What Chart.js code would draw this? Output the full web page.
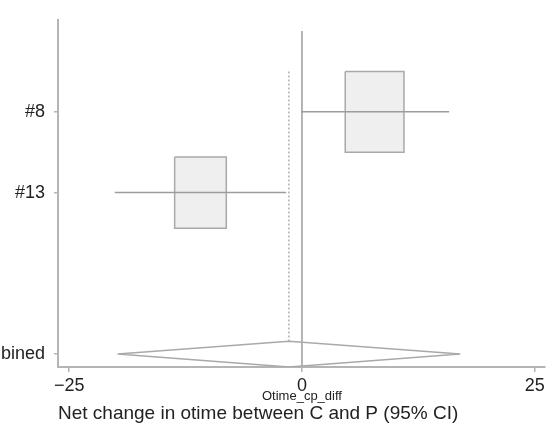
<!DOCTYPE html>
<html>
<head>
<meta charset="utf-8">
<script src="https://cdn.jsdelivr.net/npm/chart.js@4/dist/chart.umd.min.js"></script>
<style>
  html, body { margin: 0; padding: 0; background: #fff; }
  canvas { display: block; }
</style>
</head>
<body>
<canvas id="c" width="555" height="426"></canvas>
<script>
// ---- data ----
const studyLabels = ['#8', '#13'];
const studyRows = [1, 2];
const studyEst = [7.8, -10.9];
const studyLo = [-0.1, -20.1];
const studyHi = [15.8, -1.7];
const studyWeight = [56.4, 43.6];

const combinedLabel = 'Combined';
const combinedRow = 4;
const combinedEst = -1.4;
const combinedLo = -19.8;
const combinedHi = 17.0;

const xTickValues = [-25, 0, 25];
const yTickValues = [1, 2, 4];
const yTickLabels = ['#8', '#13', 'Combined'];
const xTitle = 'Net change in otime between C and P (95% CI)';
const xVarLabel = 'Otime_cp_diff';

// ---- styling ----
const AXIS = '#b4b4b4';
const LINE = '#9c9c9c';
const BOX_EDGE = '#a9a9a9';
const BOX_FILL = '#efefef';
const TEXT = '#222';
const FONT = '"Liberation Sans", Arial, Helvetica, sans-serif';
const Y_MIN = -0.14, Y_MAX = 4.16;
const X_MIN = -26.2, X_MAX = 26.1;
const BOX_KX = 0.42, BOX_KY = 0.0667, DIAMOND_H = 0.16;

const datasets = [];
const base = { pointRadius: 0, pointHoverRadius: 0, fill: false, tension: 0 };

// zero line
datasets.push(Object.assign({}, base, {
  data: [{x: 0, y: 0}, {x: 0, y: Y_MAX}],
  borderColor: LINE, borderWidth: 1.5, order: 2
}));
// overall effect dashed line
datasets.push(Object.assign({}, base, {
  data: [{x: combinedEst, y: 0.5}, {x: combinedEst, y: combinedRow - DIAMOND_H}],
  borderColor: LINE, borderWidth: 1.2, borderDash: [2, 2], order: 2
}));
// study boxes and CIs
studyLabels.forEach((lab, i) => {
  const r = studyRows[i], e = studyEst[i];
  const hw = BOX_KX * Math.sqrt(studyWeight[i]);
  const hh = BOX_KY * Math.sqrt(studyWeight[i]);
  datasets.push(Object.assign({}, base, {
    data: [
      {x: e - hw, y: r - hh}, {x: e + hw, y: r - hh},
      {x: e + hw, y: r + hh}, {x: e - hw, y: r + hh}, {x: e - hw, y: r - hh}
    ],
    borderColor: BOX_EDGE, borderWidth: 1.5, backgroundColor: BOX_FILL,
    fill: 'shape', order: 3
  }));
  datasets.push(Object.assign({}, base, {
    data: [{x: studyLo[i], y: r}, {x: studyHi[i], y: r}],
    borderColor: LINE, borderWidth: 1.5, order: 1
  }));
});
// combined diamond
datasets.push(Object.assign({}, base, {
  data: [
    {x: combinedLo, y: combinedRow}, {x: combinedEst, y: combinedRow - DIAMOND_H},
    {x: combinedHi, y: combinedRow}, {x: combinedEst, y: combinedRow + DIAMOND_H},
    {x: combinedLo, y: combinedRow}
  ],
  borderColor: BOX_EDGE, borderWidth: 1.5, order: 1
}));

const varLabelPlugin = {
  id: 'varLabel',
  afterDraw(chart) {
    const ctx = chart.ctx;
    const xs = chart.scales.x;
    ctx.save();
    ctx.font = '13px ' + FONT;
    ctx.fillStyle = TEXT;
    ctx.textAlign = 'center';
    ctx.textBaseline = 'middle';
    ctx.fillText(xVarLabel, xs.getPixelForValue(0), 396);
    ctx.restore();
  }
};

new Chart(document.getElementById('c'), {
  type: 'line',
  data: { datasets },
  plugins: [varLabelPlugin],
  options: {
    responsive: false,
    animation: false,
    devicePixelRatio: 1,
    layout: { padding: { left: 0, right: 10, top: 17, bottom: 0 } },
    plugins: { legend: { display: false }, tooltip: { enabled: false } },
    scales: {
      x: {
        type: 'linear',
        min: X_MIN, max: X_MAX,
        afterFit(s) { s.height = 59; },
        afterBuildTicks(s) { s.ticks = xTickValues.map(v => ({ value: v })); },
        grid: { drawOnChartArea: false, drawTicks: true, tickLength: 5, color: AXIS, lineWidth: 1.5 },
        border: { display: true, color: AXIS, width: 2 },
        ticks: {
          color: TEXT, font: { size: 18, family: FONT }, padding: 3, maxRotation: 0,
          callback: (v) => (v < 0 ? '\u2212' + Math.abs(v) : String(v))
        },
        title: {
          display: true, text: xTitle, align: 'start', color: TEXT,
          font: { size: 19, family: FONT }, padding: { top: 0, bottom: 1 }
        }
      },
      y: {
        type: 'linear',
        reverse: true,
        min: Y_MIN, max: Y_MAX,
        afterFit(s) { s.width = 58; },
        afterBuildTicks(s) { s.ticks = yTickValues.map(v => ({ value: v })); },
        grid: { drawOnChartArea: false, drawTicks: true, tickLength: 4, color: AXIS, lineWidth: 1.5 },
        border: { display: true, color: AXIS, width: 2 },
        ticks: {
          color: TEXT, font: { size: 18, family: FONT }, padding: 9,
          callback: (v) => { const k = yTickValues.indexOf(v); return k >= 0 ? yTickLabels[k] : ''; }
        }
      }
    }
  }
});
</script>
</body>
</html>
